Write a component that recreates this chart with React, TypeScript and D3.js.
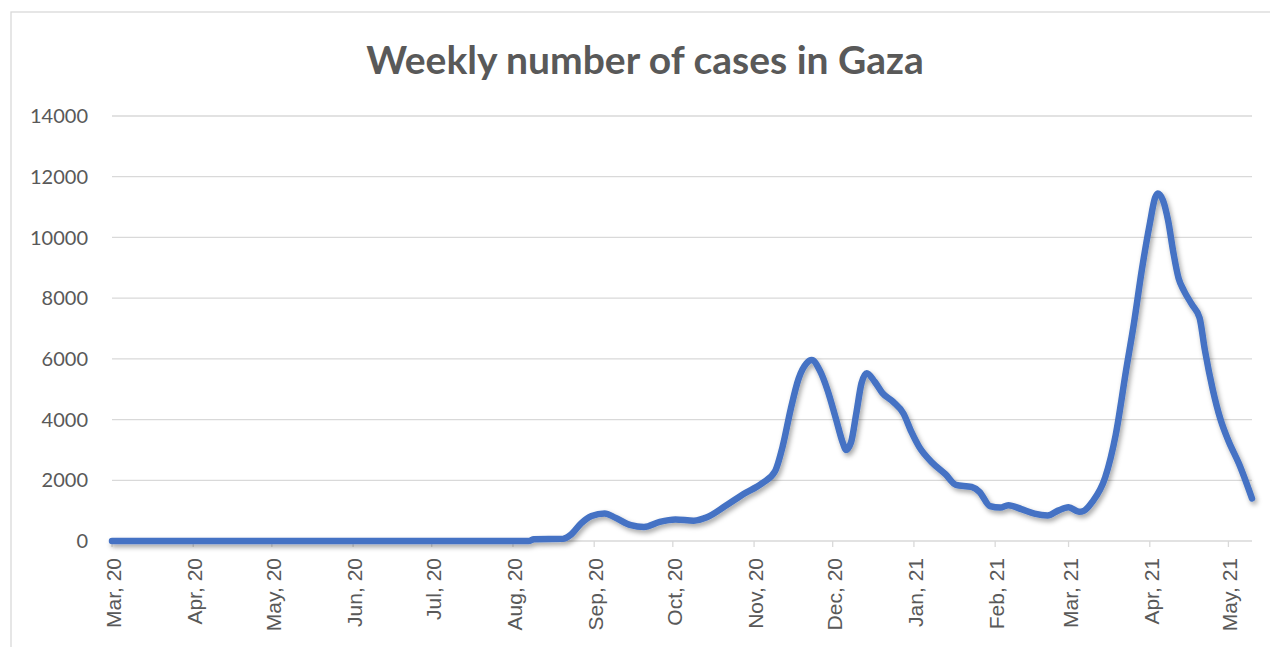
import React from "react";
import * as d3 from "d3";

const dates: string[] = [
  "2020-03-01", "2020-08-07", "2020-08-09", "2020-08-20", "2020-08-23", "2020-08-27",
  "2020-08-31", "2020-09-05", "2020-09-09", "2020-09-15", "2020-09-20", "2020-09-26",
  "2020-10-02", "2020-10-09", "2020-10-14", "2020-10-21", "2020-10-28", "2020-11-04",
  "2020-11-09", "2020-11-12", "2020-11-15", "2020-11-18", "2020-11-21", "2020-11-23",
  "2020-11-26", "2020-11-29", "2020-12-02", "2020-12-05", "2020-12-06", "2020-12-08",
  "2020-12-10", "2020-12-12", "2020-12-14", "2020-12-17", "2020-12-20", "2020-12-24",
  "2020-12-28", "2020-12-31", "2021-01-03", "2021-01-08", "2021-01-13", "2021-01-17",
  "2021-01-23", "2021-01-26", "2021-01-30", "2021-02-03", "2021-02-06", "2021-02-11",
  "2021-02-16", "2021-02-21", "2021-02-25", "2021-03-01", "2021-03-05", "2021-03-07",
  "2021-03-10", "2021-03-15", "2021-03-19", "2021-03-23", "2021-03-26", "2021-03-29",
  "2021-04-01", "2021-04-03", "2021-04-04", "2021-04-06", "2021-04-08", "2021-04-10",
  "2021-04-12", "2021-04-14", "2021-04-17", "2021-04-20", "2021-04-22", "2021-04-25",
  "2021-04-28", "2021-05-01", "2021-05-05", "2021-05-10",
];

const weeklyCases: number[] = [
  0, 0, 60, 70, 200, 580,
  820, 910, 770, 520, 460, 630,
  710, 670, 780, 1150, 1550, 1900,
  2300, 3150, 4350, 5350, 5850, 5960,
  5630, 4975, 4100, 3200, 3000, 3250,
  4200, 5200, 5530, 5250, 4870, 4590,
  4200, 3600, 3100, 2580, 2200, 1850,
  1780, 1620, 1150, 1100, 1180, 1050,
  900, 840, 1000, 1110, 960, 1000,
  1280, 2100, 3500, 5650, 7200, 8950,
  10450, 11300, 11450, 11230, 10550, 9500,
  8650, 8250, 7800, 7350, 6300, 5000,
  4000, 3300, 2550, 1400,
];

const yTicks: number[] = [0, 2000, 4000, 6000, 8000, 10000, 12000, 14000];

const monthTicks: string[] = [
  "2020-03-01", "2020-04-01", "2020-05-01", "2020-06-01", "2020-07-01", "2020-08-01",
  "2020-09-01", "2020-10-01", "2020-11-01", "2020-12-01", "2021-01-01", "2021-02-01",
  "2021-03-01", "2021-04-01", "2021-05-01",
];
const monthLabels: string[] = [
  "Mar, 20", "Apr, 20", "May, 20", "Jun, 20", "Jul, 20", "Aug, 20",
  "Sep, 20", "Oct, 20", "Nov, 20", "Dec, 20", "Jan, 21", "Feb, 21",
  "Mar, 21", "Apr, 21", "May, 21",
];

const title = "Weekly number of cases in Gaza";

export default function App() {
  const W = 1270;
  const H = 647;
  const left = 112;
  const right = 1252;
  const top = 116;
  const bottom = 541;

  const parse = d3.utcParse("%Y-%m-%d");
  const data = dates.map((d, i) => ({ date: parse(d) as Date, v: weeklyCases[i] }));

  const x = d3
    .scaleUtc()
    .domain([parse("2020-03-01") as Date, parse("2021-05-10") as Date])
    .range([left, right]);
  const y = d3.scaleLinear().domain([0, 14000]).range([bottom, top]);

  const line = d3
    .line<{ date: Date; v: number }>()
    .x((d) => x(d.date))
    .y((d) => y(d.v))
    .curve(d3.curveMonotoneX);

  const textColor = "#595959";
  const gridColor = "#d9d9d9";

  return (
    <svg
      width={W}
      height={H}
      style={{ position: "absolute", left: 0, top: 0, display: "block", background: "#fff" }}
    >
      <defs>
        <filter id="shadow" x="-5%" y="-5%" width="110%" height="120%">
          <feDropShadow dx="2" dy="3" stdDeviation="2.5" floodColor="#000" floodOpacity="0.35" />
        </filter>
      </defs>
      <rect x={0} y={0} width={W} height={H} fill="#fff" />
      <rect x={11} y={12} width={W + 20} height={H + 20} fill="#fff" stroke={gridColor} strokeWidth={1.3} />

      <text
        x={645}
        y={74}
        textAnchor="middle"
        fontFamily="Lato, 'Open Sans', sans-serif"
        fontWeight={700}
        fontSize={39}
        fill={textColor}
      >
        {title}
      </text>

      {yTicks.map((t) => (
        <g key={t}>
          <line x1={left} x2={right} y1={y(t)} y2={y(t)} stroke={gridColor} strokeWidth={1.3} />
          <text
            x={88}
            y={y(t)}
            dy="0.36em"
            textAnchor="end"
            fontFamily="Lato, sans-serif"
            fontSize={20}
            fill={textColor}
          >
            {t}
          </text>
        </g>
      ))}

      {monthTicks.map((m, i) => {
        const tx = x(parse(m) as Date);
        return (
          <g key={m}>
            <line x1={tx} x2={tx} y1={bottom} y2={bottom + 6} stroke={gridColor} strokeWidth={1.3} />
            <text
              transform={`translate(${tx + 9},558) rotate(-90)`}
              textAnchor="end"
              fontFamily="'Liberation Sans', Arial, sans-serif"
              fontSize={21}
              fill={textColor}
            >
              {monthLabels[i]}
            </text>
          </g>
        );
      })}

      <path
        d={line(data) || ""}
        fill="none"
        stroke="#4472C4"
        strokeWidth={6.5}
        strokeLinejoin="round"
        strokeLinecap="round"
        filter="url(#shadow)"
      />
    </svg>
  );
}
